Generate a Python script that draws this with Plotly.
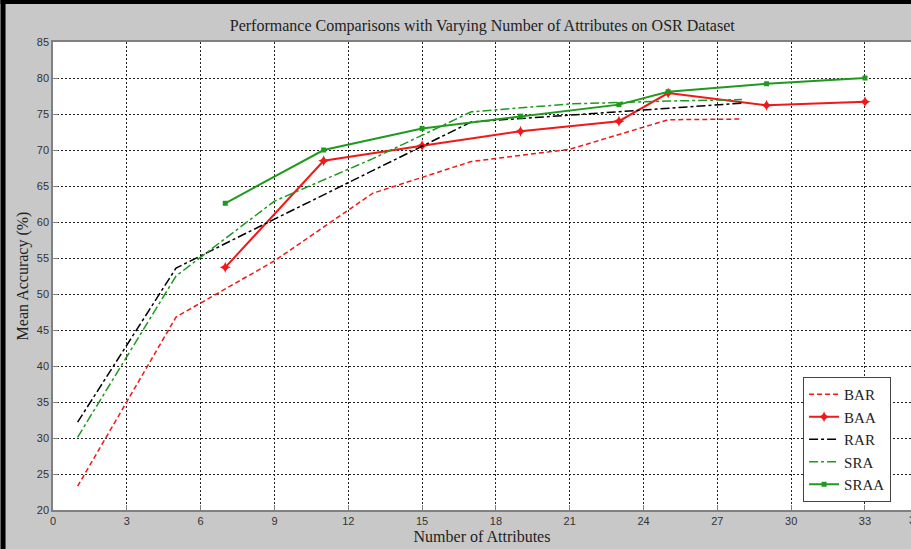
import plotly.graph_objects as go

# ---- data ----
x_a = [1, 5, 9, 13, 17, 21, 25, 28]          # BAR / RAR / SRA attribute counts
x_b = [7, 11, 15, 19, 23, 25, 29, 33]        # BAA / SRAA attribute counts

bar_vals = [23.3, 46.8, 54.6, 64.0, 68.4, 70.1, 74.2, 74.3]
rar_vals = [32.2, 53.6, 60.4, 67.1, 73.9, 74.85, 75.8, 76.5]
sra_vals = [30.1, 52.5, 62.9, 68.8, 75.3, 76.4, 76.8, 77.0]
baa_vals = [53.7, 68.5, 70.6, 72.6, 74.0, 77.9, 76.2, 76.7]
sraa_vals = [62.6, 70.0, 73.0, 74.7, 76.3, 78.1, 79.2, 80.0]

x_ticks = list(range(0, 34, 3))
y_ticks = list(range(20, 90, 5))

RED = "#f01818"
GREEN = "#1f9a1f"

fig = go.Figure()
fig.add_trace(go.Scatter(x=x_a, y=bar_vals, name="BAR", mode="lines",
                         line=dict(color=RED, width=1.5, dash="5px,3px")))
fig.add_trace(go.Scatter(x=x_b, y=baa_vals, name="BAA", mode="lines+markers",
                         line=dict(color=RED, width=2),
                         marker=dict(symbol="star-diamond", size=8, color=RED)))
fig.add_trace(go.Scatter(x=x_a, y=rar_vals, name="RAR", mode="lines",
                         line=dict(color="black", width=1.5, dash="dashdot")))
fig.add_trace(go.Scatter(x=x_a, y=sra_vals, name="SRA", mode="lines",
                         line=dict(color=GREEN, width=1.5, dash="dashdot")))
fig.add_trace(go.Scatter(x=x_b, y=sraa_vals, name="SRAA", mode="lines+markers",
                         line=dict(color=GREEN, width=2),
                         marker=dict(symbol="square", size=5, color=GREEN)))

L, T, B = 52.5, 42, 39
W, H = 911, 549
pw = W - L
ph = H - T - B

def px_x(p):
    return (p - L) / pw

def px_y(p):
    return (H - B - p) / ph

tickfont = dict(family="Liberation Sans, Arial, sans-serif", size=11, color="#333333")
serif = "Liberation Serif, Times New Roman, serif"

fig.update_layout(
    width=W, height=H,
    margin=dict(l=L, r=0, t=T, b=B, pad=0),
    paper_bgcolor="#c8c8c8",
    plot_bgcolor="white",
    title=dict(text="Performance Comparisons with Varying Number of Attributes on OSR Dataset",
               x=px_x(482), xref="paper", xanchor="center",
               y=1 - 25 / H, yref="container", yanchor="middle",
               font=dict(family=serif, size=16, color="#222222")),
    xaxis=dict(range=[0, (W - L) / 24.62], tickvals=x_ticks, ticktext=[str(v) for v in x_ticks],
               showgrid=True, gridcolor="#222222", griddash="2px,2px", gridwidth=1,
               showline=True, linecolor="#808080", linewidth=1.5, mirror=True,
               ticks="inside", ticklen=5, tickcolor="#808080",
               tickfont=tickfont, zeroline=False,
               title=dict(text="Number of Attributes", standoff=5,
                          font=dict(family=serif, size=16, color="#222222"))),
    yaxis=dict(range=[20, 85], tickvals=y_ticks,
               showgrid=True, gridcolor="#222222", griddash="2px,2px", gridwidth=1,
               showline=True, linecolor="#808080", linewidth=1.5, mirror=False,
               ticks="inside", ticklen=5, tickcolor="#808080",
               tickfont=tickfont, zeroline=False,
               title=dict(text="Mean Accuracy (%)", standoff=4,
                          font=dict(family=serif, size=16, color="#222222"))),
    legend=dict(x=px_x(803), y=px_y(377), xanchor="left", yanchor="top",
                bgcolor="white", bordercolor="#444444", borderwidth=1,
                font=dict(family=serif, size=15, color="#222222"),
                itemwidth=30, tracegroupgap=0),
    showlegend=True,
)

# window border (black strips at left and top of the screenshot)
fig.add_shape(type="rect", xref="paper", yref="paper",
              x0=px_x(0), x1=px_x(5), y0=px_y(H), y1=px_y(0),
              fillcolor="black", line=dict(width=0), layer="above")
fig.add_shape(type="rect", xref="paper", yref="paper",
              x0=px_x(0), x1=px_x(W), y0=px_y(4), y1=px_y(0),
              fillcolor="black", line=dict(width=0), layer="above")

# partially visible next tick label at the cropped right edge
fig.add_annotation(text="36", xref="paper", yref="paper",
                   x=px_x(907), y=px_y(520), xanchor="left", yanchor="middle",
                   showarrow=False, font=tickfont)

fig.write_html("out.html", config={"displayModeBar": False},
               post_script="document.body.style.margin='0';document.body.style.overflow='hidden';")
